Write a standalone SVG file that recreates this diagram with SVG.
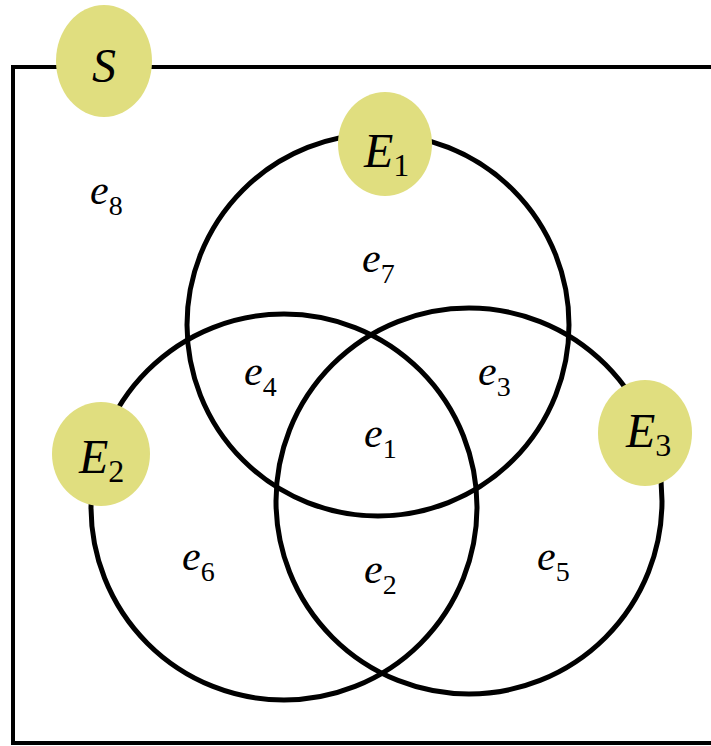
<svg xmlns="http://www.w3.org/2000/svg" width="711" height="746" viewBox="0 0 711 746">
<style>
.frame{fill:none;stroke:#000;stroke-width:4}
.set{fill:none;stroke:#000;stroke-width:5}
.tag{fill:#e0de7f;stroke:none}
.lbl{font-family:"Liberation Serif","DejaVu Serif","Times New Roman",serif;fill:#000}
.it{font-style:italic}
.el{font-size:42px}
.cap{font-size:48px}
.sub{font-size:28px}
.csub{font-size:32px}
</style>
<rect width="711" height="746" fill="#fff"/>
<g id="space">
<path class="frame" d="M713,67 H13 V743 H713"/>
</g>
<g id="connectors">
<circle id="circle-E1" class="set" cx="378" cy="325" r="191"/>
<circle id="circle-E2" class="set" cx="284" cy="507" r="193"/>
<circle id="circle-E3" class="set" cx="469" cy="501" r="193"/>
</g>
<g id="node-S">
<ellipse class="tag" cx="104" cy="61" rx="48" ry="56"/>
<text class="lbl cap it" x="104" y="82" text-anchor="middle">S</text>
</g>
<g id="node-E1">
<ellipse class="tag" cx="385" cy="144" rx="47" ry="52"/>
<text class="lbl" x="364" y="167"><tspan class="cap it">E</tspan><tspan class="csub" dy="9">1</tspan></text>
</g>
<g id="node-E2">
<ellipse class="tag" cx="101" cy="454" rx="49" ry="52"/>
<text class="lbl" x="79" y="473"><tspan class="cap it">E</tspan><tspan class="csub" dy="9">2</tspan></text>
</g>
<g id="node-E3">
<ellipse class="tag" cx="645" cy="433" rx="47" ry="53"/>
<text class="lbl" x="626" y="447"><tspan class="cap it">E</tspan><tspan class="csub" dy="9">3</tspan></text>
</g>
<g id="regions">
<text class="lbl" x="90" y="204"><tspan class="el it">e</tspan><tspan class="sub" dy="11">8</tspan></text>
<text class="lbl" x="362" y="272"><tspan class="el it">e</tspan><tspan class="sub" dy="11">7</tspan></text>
<text class="lbl" x="244" y="385"><tspan class="el it">e</tspan><tspan class="sub" dy="11">4</tspan></text>
<text class="lbl" x="478" y="385"><tspan class="el it">e</tspan><tspan class="sub" dy="11">3</tspan></text>
<text class="lbl" x="364" y="447"><tspan class="el it">e</tspan><tspan class="sub" dy="11">1</tspan></text>
<text class="lbl" x="182" y="570"><tspan class="el it">e</tspan><tspan class="sub" dy="11">6</tspan></text>
<text class="lbl" x="364" y="583"><tspan class="el it">e</tspan><tspan class="sub" dy="11">2</tspan></text>
<text class="lbl" x="537" y="570"><tspan class="el it">e</tspan><tspan class="sub" dy="11">5</tspan></text>
</g>
</svg>
